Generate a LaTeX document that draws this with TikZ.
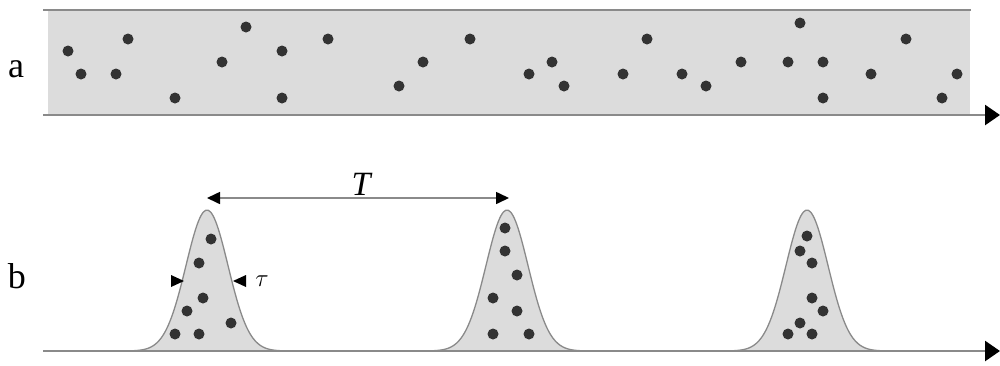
\documentclass[tikz,border=0pt]{standalone}
\usepackage{fontspec}
\setmainfont{Liberation Serif}
\usetikzlibrary{arrows.meta}
\definecolor{bandfill}{HTML}{DCDCDC}
\definecolor{linegray}{HTML}{8A8A8A}
\definecolor{dotcol}{HTML}{333333}
\tikzset{
  axisline/.style={draw=linegray, line width=2.6pt},
  axisarrow/.style={axisline, -{Triangle[length=15pt,width=20pt,color=black]}},
  peakfill/.style={fill=bandfill, draw=linegray, line width=1.3pt},
  dotstyle/.style={fill=dotcol},
  labeltext/.style={font=\fontsize{36}{40}\selectfont, anchor=base, inner sep=0pt},
  mathlabel/.style={font=\fontsize{34}{38}\selectfont, inner sep=0pt},
  periodarrow/.style={draw=linegray, line width=1.6pt, {Triangle[length=13pt,width=12pt,color=black]}-{Triangle[length=13pt,width=12pt,color=black]}},
  tautip/.style={fill=black}
}
\begin{document}
\begin{tikzpicture}[x=1pt,y=-1pt]
\useasboundingbox (0,0) rectangle (1000,365);
% panel a
\fill[bandfill] (48,10) rectangle (970,115);
\draw[axisline] (43,10) -- (971,10);
\coordinate (a0) at (43,115);
\coordinate (a1) at (1000,115);
\draw[axisarrow] (a0) -- (a1);
\foreach \p in {(68,51),(81,74),(128,39),(116,74),(175,98),(222,62),(246,27),(282,51),(282,98),(328,39),(399,86),(423,62),(470,39),(529,74),(552,62),(564,86),(623,74),(647,39),(682,74),(706,86),(741,62),(788,62),(800,23),(823,62),(823,98),(871,74),(906,39),(957,74),(942,98)}
  \fill[dotstyle] \p circle (5.5);
\node[labeltext] (la) at (16,77) {a};
% panel b
\foreach \c in {207,507,807}
  \draw[peakfill] plot[domain=-110:110, samples=90, smooth] ({\c+\x},{351-141*exp(-(\x*\x)/882)}) -- cycle;
\coordinate (b0) at (43,351);
\coordinate (b1) at (1000,351);
\draw[axisarrow] (b0) -- (b1);
\foreach \p in {(211,239),(199,263),(203,298),(187,311),(231,323),(175,334),(199,334),
                (505,228),(505,251),(517,275),(493,298),(517,311),(493,334),(529,334),
                (807,236),(800,251),(812,263),(812,298),(823,311),(800,323),(788,334),(812,334)}
  \fill[dotstyle] \p circle (5.5);
\node[labeltext] (lb) at (17,288) {b};
% period T
\coordinate (t0) at (207,198);
\coordinate (t1) at (509,198);
\draw[periodarrow] (t0) -- (t1);
\node[mathlabel, anchor=base] (tl) at (362,195) {\textit{T}};
% tau
\fill[tautip] (171,275) -- (184,281) -- (171,287) -- cycle;
\fill[tautip] (246,275) -- (233,281) -- (246,287) -- cycle;
\node[mathlabel] (taul) at (262,281) {$\tau$};
\end{tikzpicture}
\end{document}
